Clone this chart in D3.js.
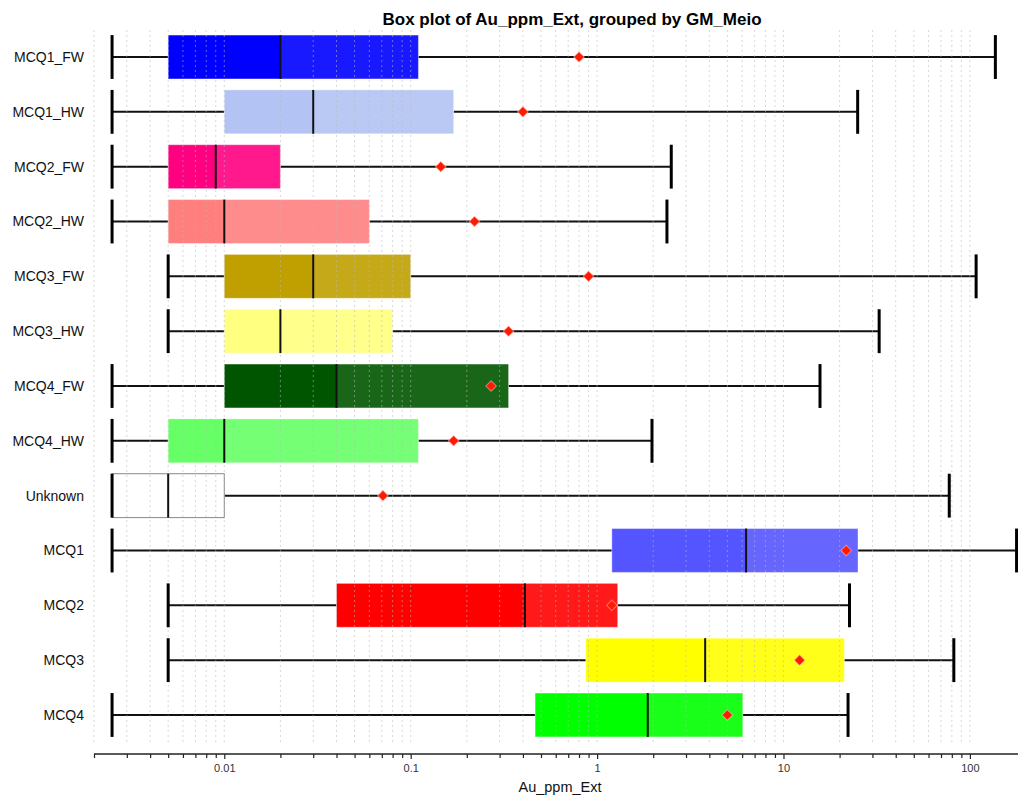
<!DOCTYPE html>
<html><head><meta charset="utf-8">
<script src="https://cdn.jsdelivr.net/npm/d3@7"></script>
<style>body{margin:0;background:#fff}svg{display:block;font-family:"Liberation Sans",Arial,sans-serif}</style>
</head><body><svg id="c" width="1018" height="797"></svg>
<script>
const categories = ["MCQ1_FW","MCQ1_HW","MCQ2_FW","MCQ2_HW","MCQ3_FW","MCQ3_HW","MCQ4_FW","MCQ4_HW","Unknown","MCQ1","MCQ2","MCQ3","MCQ4"];
const whiskerLow  = [0.0025,0.0025,0.0025,0.0025,0.005,0.005,0.0025,0.0025,0.0025,0.0025,0.005,0.005,0.0025];
const q1          = [0.005,0.01,0.005,0.005,0.01,0.01,0.01,0.005,0.0025,1.2,0.04,0.87,0.465];
const median      = [0.02,0.03,0.009,0.01,0.03,0.02,0.04,0.01,0.005,6.3,0.41,3.8,1.87];
const q3          = [0.11,0.17,0.02,0.06,0.1,0.08,0.335,0.11,0.01,25.1,1.29,21.2,6.05];
const meanVal     = [0.8,0.4,0.145,0.22,0.9,0.335,0.27,0.17,0.071,21.7,1.2,12.2,5.0];
const whiskerHigh = [137,25,2.5,2.37,108,32.6,15.7,1.97,77.5,178,22.6,82,22.2];
const boxColors   = ["#0000ff","#b3c3f3","#ff0080","#ff7f7f","#c0a000","#ffff80","#005500","#66ff66","#ffffff","#5555ff","#ff0000","#ffff00","#00ff00"];
const majorTicks  = [0.01,0.1,1,10,100];
const title = "Box plot of Au_ppm_Ext, grouped by GM_Meio";
const xTitle = "Au_ppm_Ext";

const svg = d3.select("#c");
const x = d3.scaleLog().domain([0.002,200]).range([94,1026]);
const y = d3.scaleBand().domain(categories).range([29.6,742.4]).paddingInner(0.2).paddingOuter(0.1);

const rows = categories.map((c,i)=>({c,lo:whiskerLow[i],q1:q1[i],med:median[i],q3:q3[i],mean:meanVal[i],hi:whiskerHigh[i],col:boxColors[i]}));

const allTicks = [];
for (let e=-3;e<=2;e++) for (let m=1;m<=9;m++){const v=m*Math.pow(10,e); if(v>=0.002-1e-12 && v<=200+1e-9) allTicks.push(+v.toPrecision(3));}

const g = svg.append("g");
const bh = y.bandwidth();

rows.forEach(r=>{
  const cy = y(r.c)+bh/2;
  g.append("line").attr("x1",x(r.lo)).attr("x2",x(r.q1)).attr("y1",cy).attr("y2",cy).attr("stroke","#111").attr("stroke-width",2);
  g.append("line").attr("x1",x(r.q3)).attr("x2",x(r.hi)).attr("y1",cy).attr("y2",cy).attr("stroke","#111").attr("stroke-width",2);
  const unknown = r.col==="#ffffff";
  g.append("rect").attr("x",x(r.q1)).attr("y",y(r.c)).attr("width",x(r.med)-x(r.q1)).attr("height",bh).attr("fill",r.col);
  g.append("rect").attr("x",x(r.med)).attr("y",y(r.c)).attr("width",x(r.q3)-x(r.med)).attr("height",bh).attr("fill",r.col).attr("fill-opacity",0.9);
  g.append("rect").attr("x",x(r.q1)).attr("y",y(r.c)).attr("width",x(r.q3)-x(r.q1)).attr("height",bh)
    .attr("fill","none").attr("stroke",unknown?"#888":"#fff").attr("stroke-opacity",unknown?1:0.35).attr("stroke-width",1);
});

svg.append("g").selectAll("line").data(allTicks).join("line")
  .attr("x1",d=>x(d)).attr("x2",d=>x(d)).attr("y1",30).attr("y2",745)
  .attr("stroke","#b8b8b8").attr("stroke-opacity",0.55).attr("stroke-width",1).attr("stroke-dasharray","2,3");

const g2 = svg.append("g");
rows.forEach(r=>{
  const cy = y(r.c)+bh/2;
  [r.lo,r.hi].forEach(v=>g2.append("line").attr("x1",x(v)).attr("x2",x(v)).attr("y1",y(r.c)).attr("y2",y(r.c)+bh).attr("stroke","#000").attr("stroke-width",3));
  g2.append("line").attr("x1",x(r.med)).attr("x2",x(r.med)).attr("y1",y(r.c)).attr("y2",y(r.c)+bh).attr("stroke","#111").attr("stroke-width",2);
  g2.append("path").attr("d",d3.symbol(d3.symbolSquare,56)()).attr("transform",`translate(${x(r.mean)},${cy}) rotate(45)`)
    .attr("fill","#ff1a00").attr("stroke","#ffd0d0").attr("stroke-opacity",0.5).attr("stroke-width",1);
});

svg.append("g").selectAll("text").data(categories).join("text")
  .attr("x",84).attr("y",d=>y(d)+bh/2).attr("dy","0.35em").attr("text-anchor","end")
  .attr("font-size",14).attr("fill","#111").text(d=>d);

const axis = d3.axisBottom(x).tickValues(allTicks).tickSize(4).tickSizeOuter(0)
  .tickFormat(d=>majorTicks.some(m=>Math.abs(m-d)<1e-9)? d3.format("~g")(d):"");
const ax = svg.append("g").attr("transform","translate(0,754)").call(axis);
ax.select(".domain").attr("stroke","#222").attr("stroke-width",1.5).attr("d","M94,0H1026");
ax.selectAll(".tick line").attr("stroke","#222").attr("stroke-width",1.2)
  .attr("y2",d=>majorTicks.some(m=>Math.abs(m-d)<1e-9)?5:4);
ax.selectAll(".tick text").attr("font-size",11).attr("fill","#333").attr("y",10).attr("font-family","Liberation Sans, Arial, sans-serif");

svg.append("text").attr("x",560).attr("y",792).attr("text-anchor","middle").attr("font-size",14.5).attr("fill","#111").text(xTitle);
svg.append("text").attr("x",572).attr("y",25).attr("text-anchor","middle").attr("font-size",17).attr("font-weight","bold").attr("fill","#000").text(title);
</script></body></html>
